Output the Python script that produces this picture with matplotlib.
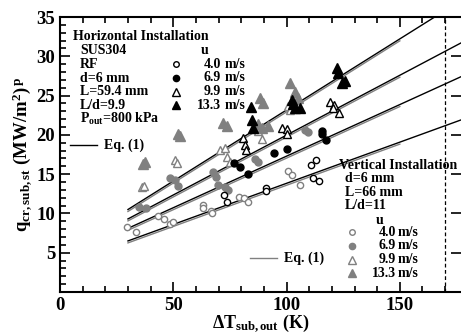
import matplotlib
matplotlib.use("Agg")
import matplotlib.pyplot as plt

plt.rcParams['font.family'] = 'Liberation Serif'
plt.rcParams['font.weight'] = 'bold'
plt.rcParams['axes.labelweight'] = 'bold'
plt.rcParams['mathtext.fontset'] = 'custom'
plt.rcParams['mathtext.rm'] = 'Liberation Serif:bold'
plt.rcParams['mathtext.it'] = 'Liberation Serif:bold'
plt.rcParams['mathtext.bf'] = 'Liberation Serif:bold'

GRAY = '#808080'

# Horizontal installation (black markers)
h40_x = [72.5, 73.8, 91.0, 91.0, 111.0, 113.0, 111.7, 114.3]
h40_y = [12.3, 11.5, 13.2, 12.9, 16.2, 16.8, 14.5, 14.1]
h69_x = [76.9, 79.5, 83.0, 94.5, 100.2, 115.6, 115.6, 117.4]
h69_y = [16.4, 15.9, 15.0, 17.7, 18.2, 20.5, 20.1, 19.3]
h99_x = [80.8, 81.7, 82.2, 98.0, 100.2, 100.2, 119.2, 120.9, 120.5, 123.1]
h99_y = [19.6, 18.7, 18.1, 20.9, 20.7, 20.1, 24.2, 23.8, 23.4, 22.8]
h133_x = [84.4, 84.8, 85.2, 102.4, 102.9, 103.7, 105.9, 122.2, 122.7, 124.4, 125.8]
h133_y = [23.5, 21.9, 20.9, 24.4, 23.9, 23.4, 23.4, 28.5, 27.9, 26.6, 26.8]

# Vertical installation (gray markers)
v40_x = [29.7, 33.7, 43.4, 46.0, 48.7, 50.0, 63.2, 63.2, 66.7, 67.2, 79.1, 81.3, 83.0, 100.7, 102.4, 105.9]
v40_y = [8.3, 7.6, 9.7, 9.3, 8.7, 8.9, 11.1, 10.7, 10.3, 10.1, 12.1, 12.0, 11.5, 15.4, 14.9, 13.6]
v69_x = [35.0, 38.1, 48.7, 50.9, 52.2, 67.6, 68.9, 69.8, 72.9, 74.2, 86.1, 87.4, 108.1, 109.5]
v69_y = [10.8, 10.7, 14.5, 14.2, 13.5, 15.3, 14.6, 13.6, 13.4, 13.0, 16.9, 16.5, 20.6, 20.4]
v99_x = [36.3, 37.2, 50.9, 51.8, 70.7, 72.9, 73.8, 75.1, 87.4, 89.2, 100.7, 101.6]
v99_y = [13.4, 13.5, 16.8, 16.4, 18.1, 18.3, 17.2, 16.5, 20.5, 19.5, 23.7, 23.2]
v133_x = [36.8, 37.7, 52.2, 53.1, 72.0, 73.8, 87.4, 89.2, 91.8, 88.3, 89.6, 101.6, 103.7, 105.0]
v133_y = [16.3, 16.5, 20.1, 19.8, 21.5, 21.1, 21.4, 20.9, 21.1, 24.7, 24.0, 26.6, 25.4, 24.7]

# Eq. (1) lines: start/end values for each velocity
eq_x = [30, 177]
eq40 = [6.5, 21.9]
eq69 = [8.1, 27.4]
eq99 = [9.3, 31.7]
eq133 = [10.5, 37.1]
eqv_x = [30, 150]

fig = plt.figure(figsize=(4.61, 3.34), dpi=100)
ax = fig.add_axes([60 / 461, 42 / 334, 401 / 461, 275 / 334])

for ys in [eq40, eq69, eq99, eq133]:
    slope = (ys[1] - ys[0]) / (eq_x[1] - eq_x[0])
    yv = [ys[0] - 0.25, ys[0] - 0.25 + slope * (eqv_x[1] - eqv_x[0])]
    ax.plot(eqv_x, yv, color=GRAY, lw=1.0)
    ax.plot(eq_x, ys, color='black', lw=1.0)

ax.axvline(170, color='black', lw=0.9, ls=(0, (3, 2)))

ax.plot(v40_x, v40_y, 'o', ms=4.5, mfc='white', mec=GRAY, mew=1.0, ls='none')
ax.plot(v69_x, v69_y, 'o', ms=5, mfc=GRAY, mec=GRAY, ls='none')
ax.plot(v99_x, v99_y, '^', ms=6, mfc='white', mec=GRAY, mew=1.0, ls='none')
ax.plot(v133_x, v133_y, '^', ms=6.5, mfc=GRAY, mec=GRAY, ls='none')
ax.plot(h40_x, h40_y, 'o', ms=4.5, mfc='white', mec='black', mew=1.0, ls='none')
ax.plot(h69_x, h69_y, 'o', ms=5, mfc='black', mec='black', ls='none')
ax.plot(h99_x, h99_y, '^', ms=6, mfc='white', mec='black', mew=1.0, ls='none')
ax.plot(h133_x, h133_y, '^', ms=6.5, mfc='black', mec='black', ls='none')

ax.set_xlim(0, 177)
ax.set_ylim(0, 35)
ax.set_xticks([0, 50, 100, 150])
ax.set_xticks(range(0, 177, 10), minor=True)
ax.set_yticks([5, 10, 15, 20, 25, 30, 35])
ax.set_yticks(range(0, 36), minor=True)
ax.tick_params(which='both', direction='in', top=True, width=1.2, labelsize=13.5)
ax.tick_params(which='major', length=7)
ax.tick_params(which='minor', length=4)
ax.tick_params(axis='y', which='major', right=True)
ax.tick_params(axis='y', which='minor', right=False)
ax.tick_params(axis='x', which='minor', top=True)
ax.spines['right'].set_visible(False)
for s in ['left', 'bottom', 'top']:
    ax.spines[s].set_linewidth(1.5)

ax.set_xlabel(r'$\Delta$T$_{sub,out}$ (K)', fontsize=13, labelpad=-1)
ax.set_ylabel(r'q$_{cr,sub,st}$ (MW/m$^2$)$^{\,p}$', fontsize=13.5, labelpad=2)


def ftxt(px, py, s, **kw):
    kw.setdefault('va', 'center')
    kw.setdefault('fontsize', 10)
    fig.text(px / 461, 1 - py / 334, s, **kw)


def fmark(px, py, **kw):
    ax.plot([px / 461], [1 - py / 334], transform=fig.transFigure, clip_on=False, ls='none', **kw)


# Horizontal installation block
ftxt(73, 37, 'Horizontal Installation')
h_info = ['SUS304', 'RF', 'd=6 mm', 'L=59.4 mm', 'L/d=9.9', r'P$_{out}$=800 kPa']
for i, s in enumerate(h_info):
    ftxt(80, 51 + 13.6 * i, s)
ftxt(205, 51, 'u', ha='center')
u_labels = ['4.0', '6.9', '9.9', '13.3']
h_styles = [dict(marker='o', ms=4, mfc='white', mec='black'),
            dict(marker='o', ms=4.5, mfc='black', mec='black'),
            dict(marker='^', ms=5.5, mfc='white', mec='black'),
            dict(marker='^', ms=6, mfc='black', mec='black')]
for i, (lab, st) in enumerate(zip(u_labels, h_styles)):
    yy = 64 + 13.8 * i
    fmark(176, yy, **st)
    ftxt(221, yy, lab, ha='right')
    ftxt(225, yy, 'm/s')
fig.add_artist(plt.Line2D([70 / 461, 97 / 461], [1 - 145 / 334] * 2, color='black', lw=1.0))
ftxt(104, 145, 'Eq. (1)')

# Vertical installation block
ftxt(339, 165, 'Vertical Installation')
v_info = ['d=6 mm', 'L=66 mm', 'L/d=11']
for i, s in enumerate(v_info):
    ftxt(345, 179 + 13.4 * i, s)
ftxt(380, 220, 'u', ha='center')
v_styles = [dict(marker='o', ms=4, mfc='white', mec=GRAY),
            dict(marker='o', ms=4.5, mfc=GRAY, mec=GRAY),
            dict(marker='^', ms=5.5, mfc='white', mec=GRAY),
            dict(marker='^', ms=6, mfc=GRAY, mec=GRAY)]
for i, (lab, st) in enumerate(zip(u_labels, v_styles)):
    yy = 232 + 13.8 * i
    fmark(352, yy, **st)
    ftxt(396, yy, lab, ha='right')
    ftxt(398, yy, 'm/s')
fig.add_artist(plt.Line2D([250 / 461, 277 / 461], [1 - 258 / 334] * 2, color=GRAY, lw=1.0))
ftxt(284, 258, 'Eq. (1)')

plt.savefig('out.png', dpi=100)
